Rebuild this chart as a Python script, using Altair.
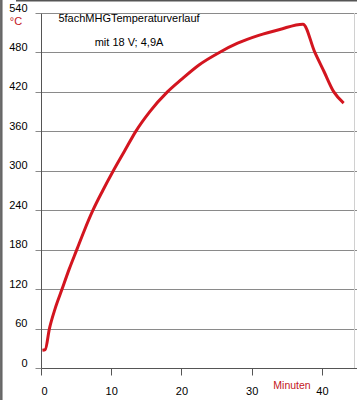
import altair as alt
import pandas as pd

# ---- data ----
minutes = [0.2, 0.6, 1.2, 2.0, 3.0, 4.0, 5.1, 6.2, 7.4, 8.8, 10.3, 11.9, 13.5,
           15.5, 18.0, 20.0, 22.5, 25.4, 28.0, 31.0, 34.0, 37.3,
           39.0, 40.3, 41.7, 43.1]
temps = [27, 28, 60, 90, 120, 150, 180, 210, 240, 270, 300, 330, 360,
         390, 420, 439, 461, 480, 494, 506, 515, 523,
         480, 451, 420, 403]
y_ticks = [0, 60, 120, 180, 240, 300, 360, 420, 480, 540]
x_ticks = [0, 10, 20, 30, 40]
title_text = "5fachMHGTemperaturverlauf"
subtitle_text = "mit 18 V; 4,9A"
y_unit = "°C"
x_label = "Minuten"

FONT = "Liberation Sans"
RED_TXT = "#c4161c"

df = pd.DataFrame({"Minuten": minutes, "Temp": temps})
one = pd.DataFrame({"a": [0]})

x_scale = alt.Scale(domain=[0, 45], nice=False, zero=False)
y_scale = alt.Scale(domain=[0, 540], nice=False)

line = alt.Chart(df).mark_line(
    color="#d3151f", strokeWidth=3, interpolate="monotone"
).encode(
    x=alt.X("Minuten:Q", scale=x_scale,
            axis=alt.Axis(values=x_ticks, title=None, grid=False,
                          domainColor="#555555", tickColor="#555555",
                          tickSize=7, labelPadding=10, labelFontSize=11,
                          labelColor="#000000", labelFont=FONT)),
    y=alt.Y("Temp:Q", scale=y_scale,
            axis=alt.Axis(values=y_ticks, title=None, grid=True,
                          gridColor="#8a8a8a", domainColor="#555555",
                          tickColor="#8a8a8a", tickSize=6, labelPadding=8,
                          labelOffset=-5, labelFontSize=11,
                          labelColor="#000000", labelFont=FONT)),
)

title = alt.Chart(pd.DataFrame({"t": [title_text]})).mark_text(
    font=FONT, fontSize=11, color="#000000", align="center", baseline="middle"
).encode(text="t:N", x=alt.value(88), y=alt.value(6))

subtitle = alt.Chart(pd.DataFrame({"t": [subtitle_text]})).mark_text(
    font=FONT, fontSize=11, color="#000000", align="center", baseline="middle"
).encode(text="t:N", x=alt.value(88), y=alt.value(30))

unit = alt.Chart(pd.DataFrame({"t": [y_unit]})).mark_text(
    font=FONT, fontSize=11, color=RED_TXT, align="center", baseline="middle"
).encode(text="t:N", x=alt.value(-25), y=alt.value(9))

xlab = alt.Chart(pd.DataFrame({"t": [x_label]})).mark_text(
    font=FONT, fontSize=10.5, color=RED_TXT, align="center", baseline="middle"
).encode(text="t:N", x=alt.value(251), y=alt.value(18 + 355))

# window frame decorations
left_border = alt.Chart(one).mark_rule(color="#666666", strokeWidth=2.5).encode(
    x=alt.value(-39.7), y=alt.value(-13), y2=alt.value(387))
top_border = alt.Chart(one).mark_rule(color="#555555", strokeWidth=1.5).encode(
    x=alt.value(-25), x2=alt.value(316), y=alt.value(-12.2))
right_line = alt.Chart(one).mark_rule(color="#d0d0d0", strokeWidth=1).encode(
    x=alt.value(313.5), y=alt.value(0), y2=alt.value(355))

chart = alt.layer(
    right_line, line, title, subtitle, unit, xlab, left_border, top_border
).properties(
    width=316, height=355,
    autosize=alt.AutoSizeParams(type="none"),
    padding={"left": 41, "top": 13, "right": 0, "bottom": 32},
).configure_view(stroke=None).configure(background="white")

chart.save("out.html", embed_options={"renderer": "svg", "actions": False})
